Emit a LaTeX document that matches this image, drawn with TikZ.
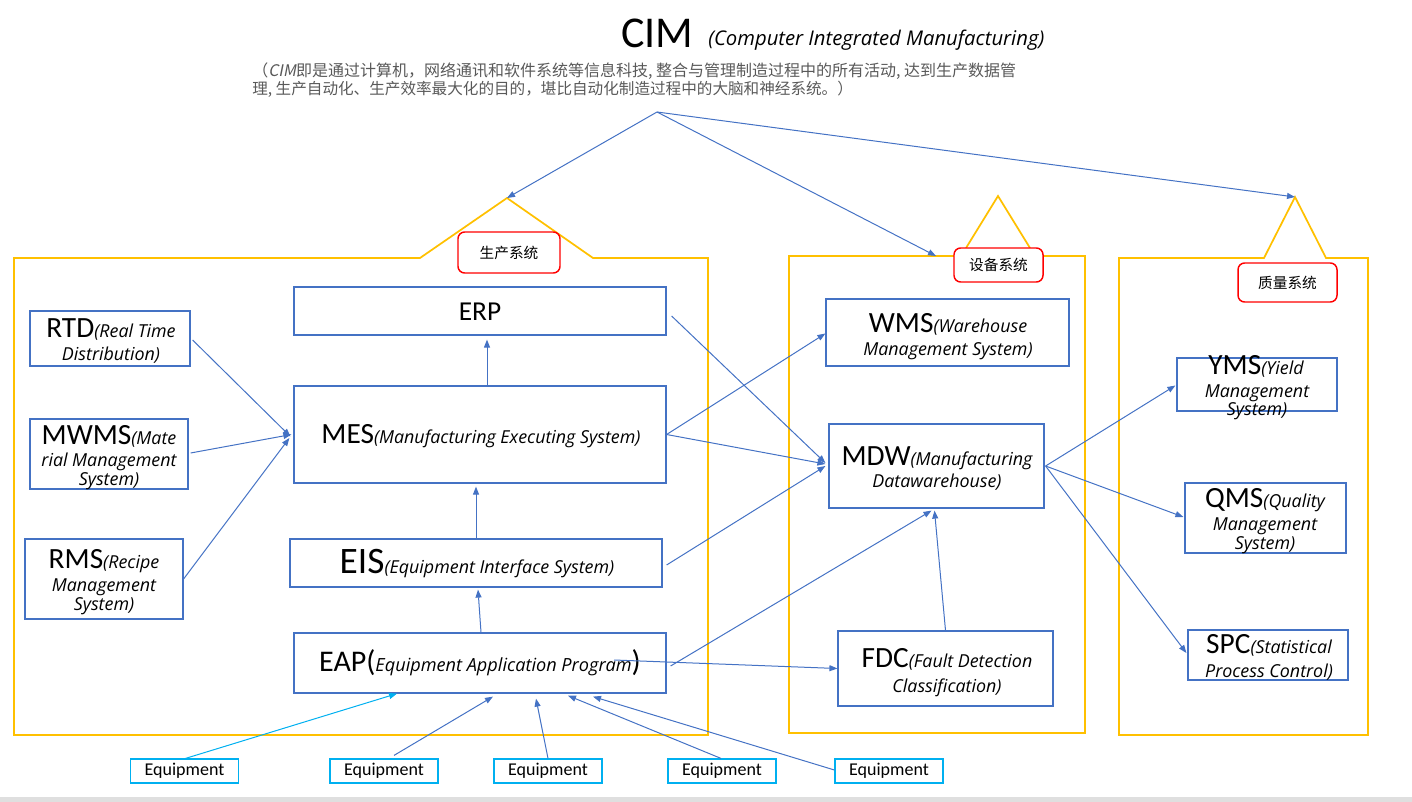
\documentclass[tikz,border=0pt]{standalone}
\usepackage{fontspec}
\usepackage{graphicx}
\setmainfont{Carlito}
\newfontfamily\hand{Open Sans}
\newfontfamily\cjk{Noto Sans CJK SC}
\newfontfamily\cjkit{Noto Sans CJK SC}[FakeSlant=0.2]
\usetikzlibrary{arrows.meta,calc}
\definecolor{lblue}{HTML}{4472C4}
\definecolor{frameY}{HTML}{FFC000}
\definecolor{eqc}{HTML}{00B0F0}
\definecolor{descg}{HTML}{595959}
\newcommand{\acr}[2][22pt]{{\fontsize{#1}{#1}\selectfont #2}}
\newcommand{\hw}[2][13.4pt]{{\hand\itshape\fontsize{#1}{#1}\selectfont #2}}
\begin{document}
\begin{tikzpicture}[x=0.75pt,y=-0.75pt,
  box/.style={draw=lblue, line width=0.9pt, inner sep=0pt, fill=white},
  frame/.style={draw=frameY, line width=1.3pt},
  tag/.style={draw=red, line width=1.1pt, rounded corners=5pt, fill=white, inner sep=0pt, font=\cjk\fontsize{11pt}{13pt}\selectfont},
  eqbox/.style={draw=eqc, line width=0.9pt, inner sep=0pt, fill=white, minimum width=81pt, minimum height=18pt, font=\fontsize{13.5pt}{15pt}\selectfont},
  txt/.style={anchor=base, inner sep=0pt},
  conn/.style={draw=lblue, line width=0.75pt, -{Triangle[length=6pt,width=4.5pt]}},
  cconn/.style={conn, draw=eqc, -{Triangle[length=6pt,width=4.5pt,fill=eqc]}},
]
\useasboundingbox (0,0) rectangle (1412,802);
\fill[gray!25] (0,797) rectangle (1412,802);

% title
\node[anchor=base west, inner sep=0pt] (cim) at (621,48) {\acr[33pt]{CIM}};
\node[anchor=base west, inner sep=0pt] (cimsub) at (708,46) {\hw[15.2pt]{(Computer Integrated Manufacturing)}};
\node[anchor=base west, inner sep=0pt, text=descg, font=\cjk\fontsize{12pt}{14pt}\selectfont] (descA) at (252,77) {（{\cjkit CIM}即是通过计算机，网络通讯和软件系统等信息科技, 整合与管理制造过程中的所有活动, 达到生产数据管};
\node[anchor=base west, inner sep=0pt, text=descg, font=\cjk\fontsize{11.7pt}{14pt}\selectfont] (descB) at (252,95) {理, 生产自动化、生产效率最大化的目的，堪比自动化制造过程中的大脑和神经系统。）};

% frames
\draw[frame] (14,258) -- (420,258) -- (507,198) -- (593,258) -- (708,258) -- (708,735) -- (14,735) -- cycle;
\draw[frame] (789,256) rectangle (1085,733);
\draw[frame] (966,248) -- (998,196) -- (1030,248);
\draw[frame] (1119,258) -- (1264,258) -- (1295,197) -- (1326,258) -- (1368,258) -- (1368,735) -- (1119,735) -- cycle;

\node[tag, minimum width=76.5pt, minimum height=30.75pt] (tagP) at (509,252.5) {生产系统};
\node[tag, minimum width=66.75pt, minimum height=25.5pt] (tagE) at (998.5,265) {设备系统};
\node[tag, minimum width=74.25pt, minimum height=29.25pt] (tagQ) at (1287.5,282.5) {质量系统};

% boxes
\node[box, minimum width=279pt, minimum height=36pt] (erp) at (480,311) {};
\node[box, minimum width=279pt, minimum height=72.75pt] (mes) at (480,434.5) {};
\node[box, minimum width=279pt, minimum height=36pt] (eis) at (476,563) {};
\node[box, minimum width=279pt, minimum height=45pt] (eap) at (480,663) {};
\node[box, minimum width=120pt, minimum height=41.25pt] (rtd) at (110,338.5) {};
\node[box, minimum width=118.5pt, minimum height=52.5pt] (mwms) at (109,454) {};
\node[box, minimum width=118.5pt, minimum height=60pt] (rms) at (104,579) {};
\node[box, minimum width=182.25pt, minimum height=50.25pt] (wms) at (947.5,332.5) {};
\node[box, minimum width=161.25pt, minimum height=63pt] (mdw) at (936.5,466) {};
\node[box, minimum width=161.25pt, minimum height=56.25pt] (fdc) at (945.5,668.5) {};
\node[box, minimum width=120pt, minimum height=39.75pt] (yms) at (1257,384.5) {};
\node[box, minimum width=120.75pt, minimum height=52.5pt] (qms) at (1265.5,518) {};
\node[box, minimum width=120pt, minimum height=37.5pt] (spc) at (1268,655) {};

\node[eqbox] (eq1) at (184.5,771) {Equipment};
\node[eqbox] (eq2) at (384,771) {Equipment};
\node[eqbox] (eq3) at (548,771) {Equipment};
\node[eqbox] (eq4) at (722,771) {Equipment};
\node[eqbox] (eq5) at (889,771) {Equipment};

% box texts
\node[txt] (erpT) at (480,320) {\acr[20.5pt]{ERP}};
\node[txt] (mesT) at (481,443) {\acr{MES}\hw{(Manufacturing Executing System)}};
\node[txt] (eisT) at (477,573) {\acr[28pt]{EIS}\hw{(Equipment Interface System)}};
\node[txt] (eapT) at (480,671) {\acr[22.5pt]{EAP(}\hw[13.6pt]{Equipment Application Program}\acr[22.5pt]{)}};
\node[txt] (rtdA) at (111,337) {\acr{RTD}\hw{(Real Time}};
\node[txt] (rtdB) at (111,360) {\hw{Distribution)}};
\node[txt] (mwmsA) at (109,444) {\acr{MWMS}\hw{(Mate}};
\node[txt] (mwmsB) at (109,466) {\hw{rial Management}};
\node[txt] (mwmsC) at (109,485) {\hw{System)}};
\node[txt] (rmsA) at (104,568) {\acr{RMS}\hw{(Recipe}};
\node[txt] (rmsB) at (104,591) {\hw{Management}};
\node[txt] (rmsC) at (104,610) {\hw{System)}};
\node[txt] (wmsA) at (948,332) {\acr{WMS}\hw{(Warehouse}};
\node[txt] (wmsB) at (948,355) {\hw{Management System)}};
\node[txt] (mdwA) at (937,465) {\acr{MDW}\hw{(Manufacturing}};
\node[txt] (mdwB) at (937,487) {\hw{Datawarehouse)}};
\node[txt] (fdcA) at (947,667) {\acr{FDC}\hw{(Fault Detection}};
\node[txt] (fdcB) at (947,692) {\hw{Classification)}};
\node[txt] (ymsA) at (1256,374) {\acr{YMS}\hw{(Yield}};
\node[txt] (ymsB) at (1257,397) {\hw{Management}};
\node[txt] (ymsC) at (1257,415) {\hw{System)}};
\node[txt] (qmsA) at (1265,507) {\acr{QMS}\hw{(Quality}};
\node[txt] (qmsB) at (1265,530) {\hw{Management}};
\node[txt] (qmsC) at (1265,549) {\hw{System)}};
\node[txt] (spcA) at (1269,653) {\acr{SPC}\hw{(Statistical}};
\node[txt] (spcB) at (1269,677) {\hw{Process Control)}};

% free ends
\coordinate (src) at (657,112);
\coordinate (apexP) at (507,198);
\coordinate (topE) at (936,256);
\coordinate (apexQ) at (1295,197);

% connectors
\draw[conn] (src) -- (apexP);
\draw[conn] (src) -- (topE);
\draw[conn] (src) -- (apexQ);
\draw[conn] ($(mes.north)+(7,0)$) -- ($(erp.south)+(7,4)$);
\draw[conn] (eis.north) -- ($(mes.south)+(-4,3)$);
\draw[conn] ($(eap.north)+(1,0)$) -- ($(eis.south)+(2,2)$);
\draw[conn] ($(rtd.east)+(2,1.5)$) -- ($(mes.west)+(-3,2)$);
\draw[conn] ($(mwms.east)+(2,-1)$) -- ($(mes.west)+(-2,0)$);
\draw[conn] (rms.east) -- ($(mes.west)+(-4,3.5)$);
\draw[conn] ($(erp.east)+(5,5)$) -- ($(mdw.west)+(-3,-3)$);
\draw[conn] (mes.east) -- ($(wms.west)+(0,1)$);
\draw[conn] (mes.east) -- ($(mdw.west)+(-3,-2)$);
\draw[conn] ($(eis.east)+(4,2)$) -- ($(mdw.west)+(-3,0)$);
\draw[conn] ($(eap.east)+(4,3)$) -- ($(mdw.south)+(-5,2)$);
\draw[conn] ($(eap.center)+(134,-3)$) -- (fdc.west);
\draw[conn] (fdc.north) -- ($(mdw.south)+(-2,2)$);
\draw[conn] ($(mdw.east)+(1,0)$) -- ($(yms.west)+(-1,1)$);
\draw[conn] ($(mdw.east)+(1,0)$) -- ($(qms.west)+(-1,-1)$);
\draw[conn] ($(mdw.east)+(1,0)$) -- ($(spc.west)+(-1,-2)$);
\draw[cconn] ($(eq1.north)+(1,0)$) -- ($(eap.south)+(-83,0)$);
\draw[conn] ($(eq2.north)+(10,-3)$) -- ($(eap.south)+(13,3)$);
\draw[conn] (eq3.north) -- ($(eap.south)+(56,5)$);
\draw[conn] ($(eq4.north)+(-1,0)$) -- ($(eap.south)+(88,2)$);
\draw[conn] ($(eq5.west)+(0,-1)$) -- ($(eap.south)+(113,3)$);
\end{tikzpicture}
\end{document}
